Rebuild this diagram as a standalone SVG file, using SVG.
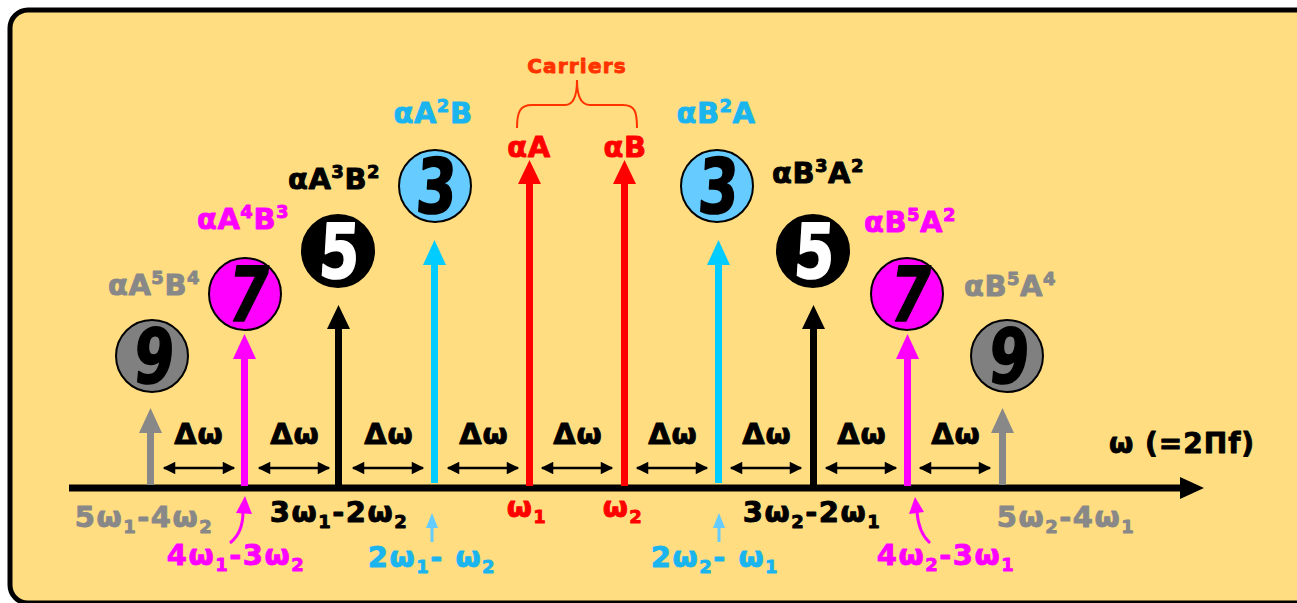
<svg xmlns="http://www.w3.org/2000/svg" width="1297" height="603" viewBox="0 0 1297 603">
<defs>
<style>
text{font-family:"DejaVu Sans","Liberation Sans",sans-serif;font-weight:bold;stroke-width:0.9;stroke-linejoin:round;}
.lbl{font-size:29px;text-anchor:middle;letter-spacing:0.5px;}
.bl{font-size:29px;text-anchor:middle;letter-spacing:1.5px;}
.dw{font-size:29px;text-anchor:middle;fill:#000;stroke:#000;letter-spacing:1px;}
.dig{font-family:"DejaVu Sans Condensed","Liberation Sans Narrow","Liberation Sans",sans-serif;font-size:76px;font-weight:bold;text-anchor:middle;stroke-width:1.5;}
.circ{stroke:#000;stroke-width:2;}
.gray{fill:#888888;stroke:#888888;}
.mag{fill:#FF00FF;stroke:#FF00FF;}
.blk{fill:#000;stroke:#000;}
.wht{fill:#FFF;stroke:#FFF;}
.cya{fill:#1AB5EE;stroke:#1AB5EE;}
.red{fill:#FF0000;stroke:#FF0000;}
.dbl{stroke:#000;stroke-width:2.5;marker-start:url(#ah);marker-end:url(#ah);}
</style>
<marker id="ah" viewBox="0 0 10 10" refX="9" refY="5" markerWidth="6" markerHeight="5" markerUnits="strokeWidth" orient="auto-start-reverse">
<path d="M0,0 L10,5 L0,10 Z" fill="#000"/>
</marker>
</defs>
<rect x="10" y="10" width="1330" height="593" rx="18" fill="#FFDD80" stroke="#000" stroke-width="5"/>

<g id="connectors">
<line x1="69" y1="488" x2="1182" y2="488" stroke="#000" stroke-width="7"/>
<polygon points="1180,477 1204,488 1180,499" fill="#000"/>
<g id="line-5w1">
<rect x="147" y="430" width="7" height="55" fill="#888888"/><polygon points="139,433 150.5,408 162,433" fill="#888888"/></g>
<g id="line-4w1">
<rect x="241" y="357" width="7" height="129" fill="#FF00FF"/><polygon points="233,359 244.5,334 256,359" fill="#FF00FF"/></g>
<g id="line-3w1">
<rect x="335" y="326" width="7" height="160" fill="#000"/><polygon points="327,329 338.5,305 350,329" fill="#000"/></g>
<g id="line-2w1">
<rect x="431" y="262" width="7" height="221" fill="#00CCFF"/><polygon points="423,265 434.5,240 446,265" fill="#00CCFF"/></g>
<g id="line-w1">
<rect x="526" y="181" width="7" height="305" fill="#FF0000"/><polygon points="518,184 529.5,160 541,184" fill="#FF0000"/></g>
<g id="line-w2">
<rect x="621" y="181" width="7" height="305" fill="#FF0000"/><polygon points="613,184 624.5,160 636,184" fill="#FF0000"/></g>
<g id="line-2w2">
<rect x="715" y="262" width="7" height="221" fill="#00CCFF"/><polygon points="707,265 718.5,240 730,265" fill="#00CCFF"/></g>
<g id="line-3w2">
<rect x="810" y="326" width="7" height="160" fill="#000"/><polygon points="802,329 813.5,305 825,329" fill="#000"/></g>
<g id="line-4w2">
<rect x="904" y="357" width="7" height="129" fill="#FF00FF"/><polygon points="896,359 907.5,334 919,359" fill="#FF00FF"/></g>
<g id="line-5w2">
<rect x="999" y="430" width="7" height="55" fill="#888888"/><polygon points="991,433 1002.5,408 1014,433" fill="#888888"/></g>
<line class="dbl" x1="164" y1="468" x2="234" y2="468"/>
<line class="dbl" x1="259" y1="468" x2="329" y2="468"/>
<line class="dbl" x1="353" y1="468" x2="423" y2="468"/>
<line class="dbl" x1="448" y1="468" x2="518" y2="468"/>
<line class="dbl" x1="542" y1="468" x2="612" y2="468"/>
<line class="dbl" x1="637" y1="468" x2="707" y2="468"/>
<line class="dbl" x1="731" y1="468" x2="801" y2="468"/>
<line class="dbl" x1="826" y1="468" x2="896" y2="468"/>
<line class="dbl" x1="920" y1="468" x2="990" y2="468"/>
<path d="M230,543 C240,535 243,525 243,512" fill="none" stroke="#FF00FF" stroke-width="3"/>
<polygon points="236,513 245,496 252,514" fill="#FF00FF"/>
<path d="M930,543 C921,535 918,525 917,512" fill="none" stroke="#FF00FF" stroke-width="3"/>
<polygon points="909,514 915,497 924,512" fill="#FF00FF"/>
<line x1="432" y1="542" x2="432" y2="526" stroke="#66CCFF" stroke-width="3"/>
<polygon points="426,528 432,513 438,528" fill="#66CCFF"/>
<line x1="719" y1="542" x2="719" y2="526" stroke="#66CCFF" stroke-width="3"/>
<polygon points="713,528 719,513 725,528" fill="#66CCFF"/>
<path d="M517,128 C517,112 520,105 532,105 L565,105 C572,105 577,98 577,80 C577,98 582,105 590,105 L623,105 C635,105 637,112 637,128" fill="none" stroke="#FF3300" stroke-width="2"/>
</g>

<g id="delta-labels">
<text class="dw" x="199" y="444">Δω</text>
<text class="dw" x="295" y="444">Δω</text>
<text class="dw" x="389" y="444">Δω</text>
<text class="dw" x="484" y="444">Δω</text>
<text class="dw" x="578" y="444">Δω</text>
<text class="dw" x="673" y="444">Δω</text>
<text class="dw" x="767" y="444">Δω</text>
<text class="dw" x="862" y="444">Δω</text>
<text class="dw" x="956" y="444">Δω</text>
</g>

<g id="node-9-left">
<circle class="circ" cx="152" cy="356" r="36" fill="#808080"/>
<text class="dig blk" transform="translate(152,383) scale(0.85,1) skewX(-6)">9</text>
<text class="lbl gray" x="154" y="295">αA<tspan font-size="18" dy="-11">5</tspan><tspan dy="11">B</tspan><tspan font-size="18" dy="-11">4</tspan></text>
</g>
<g id="node-7-left">
<circle class="circ" cx="245" cy="294" r="36" fill="#FF00FF"/>
<text class="dig blk" transform="translate(245,321) scale(0.85,1) skewX(-10)">7</text>
<text class="lbl mag" x="243" y="229">αA<tspan font-size="18" dy="-11">4</tspan><tspan dy="11">B</tspan><tspan font-size="18" dy="-11">3</tspan></text>
</g>
<g id="node-5-left">
<circle class="circ" cx="338" cy="251" r="36" fill="#000"/>
<text class="dig wht" transform="translate(338,278) scale(0.85,1) skewX(-4)">5</text>
<text class="lbl blk" x="334" y="189">αA<tspan font-size="18" dy="-11">3</tspan><tspan dy="11">B</tspan><tspan font-size="18" dy="-11">2</tspan></text>
</g>
<g id="node-3-left">
<circle class="circ" cx="435" cy="186" r="36" fill="#66CCFF"/>
<text class="dig blk" transform="translate(435,213) scale(0.85,1) skewX(-4)">3</text>
<text class="lbl cya" x="433" y="123">αA<tspan font-size="18" dy="-11">2</tspan><tspan dy="11">B</tspan></text>
</g>
<g id="node-carriers">
<text x="577" y="73" font-size="20" letter-spacing="1.2" text-anchor="middle" fill="#FF3300" stroke="#FF3300" stroke-width="0.6">Carriers</text>
<text class="lbl red" x="529" y="157">αA</text>
<text class="lbl red" x="625" y="157">αB</text>
</g>
<g id="node-3-right">
<circle class="circ" cx="717" cy="186" r="36" fill="#66CCFF"/>
<text class="dig blk" transform="translate(717,213) scale(0.85,1) skewX(-4)">3</text>
<text class="lbl cya" x="716" y="123">αB<tspan font-size="18" dy="-11">2</tspan><tspan dy="11">A</tspan></text>
</g>
<g id="node-5-right">
<circle class="circ" cx="813" cy="251" r="36" fill="#000"/>
<text class="dig wht" transform="translate(813,278) scale(0.85,1) skewX(-4)">5</text>
<text class="lbl blk" x="818" y="183">αB<tspan font-size="18" dy="-11">3</tspan><tspan dy="11">A</tspan><tspan font-size="18" dy="-11">2</tspan></text>
</g>
<g id="node-7-right">
<circle class="circ" cx="907" cy="294" r="36" fill="#FF00FF"/>
<text class="dig blk" transform="translate(907,321) scale(0.85,1) skewX(-10)">7</text>
<text class="lbl mag" x="910" y="232">αB<tspan font-size="18" dy="-11">5</tspan><tspan dy="11">A</tspan><tspan font-size="18" dy="-11">2</tspan></text>
</g>
<g id="node-9-right">
<circle class="circ" cx="1007" cy="356" r="36" fill="#808080"/>
<text class="dig blk" transform="translate(1007,383) scale(0.85,1) skewX(-6)">9</text>
<text class="lbl gray" x="1010" y="296">αB<tspan font-size="18" dy="-11">5</tspan><tspan dy="11">A</tspan><tspan font-size="18" dy="-11">4</tspan></text>
</g>

<g id="freq-labels">
<text class="bl gray" x="144" y="527">5ω<tspan font-size="18" dy="6">1</tspan><tspan dy="-6">-4ω</tspan><tspan font-size="18" dy="6">2</tspan></text>
<text class="bl mag" x="236" y="565">4ω<tspan font-size="18" dy="6">1</tspan><tspan dy="-6">-3ω</tspan><tspan font-size="18" dy="6">2</tspan></text>
<text class="bl blk" x="339" y="522">3ω<tspan font-size="18" dy="6">1</tspan><tspan dy="-6">-2ω</tspan><tspan font-size="18" dy="6">2</tspan></text>
<text class="bl cya" x="432" y="567">2ω<tspan font-size="18" dy="6">1</tspan><tspan dy="-6">- ω</tspan><tspan font-size="18" dy="6">2</tspan></text>
<text class="bl red" x="527" y="517">ω<tspan font-size="18" dy="6">1</tspan></text>
<text class="bl red" x="623" y="517">ω<tspan font-size="18" dy="6">2</tspan></text>
<text class="bl cya" x="715" y="567">2ω<tspan font-size="18" dy="6">2</tspan><tspan dy="-6">- ω</tspan><tspan font-size="18" dy="6">1</tspan></text>
<text class="bl blk" x="812" y="522">3ω<tspan font-size="18" dy="6">2</tspan><tspan dy="-6">-2ω</tspan><tspan font-size="18" dy="6">1</tspan></text>
<text class="bl mag" x="946" y="565">4ω<tspan font-size="18" dy="6">2</tspan><tspan dy="-6">-3ω</tspan><tspan font-size="18" dy="6">1</tspan></text>
<text class="bl gray" x="1066" y="527">5ω<tspan font-size="18" dy="6">2</tspan><tspan dy="-6">-4ω</tspan><tspan font-size="18" dy="6">1</tspan></text>
<text class="blk" x="1182" y="453" font-size="28" text-anchor="middle" letter-spacing="1">ω (=2Πf)</text>
</g>
</svg>
